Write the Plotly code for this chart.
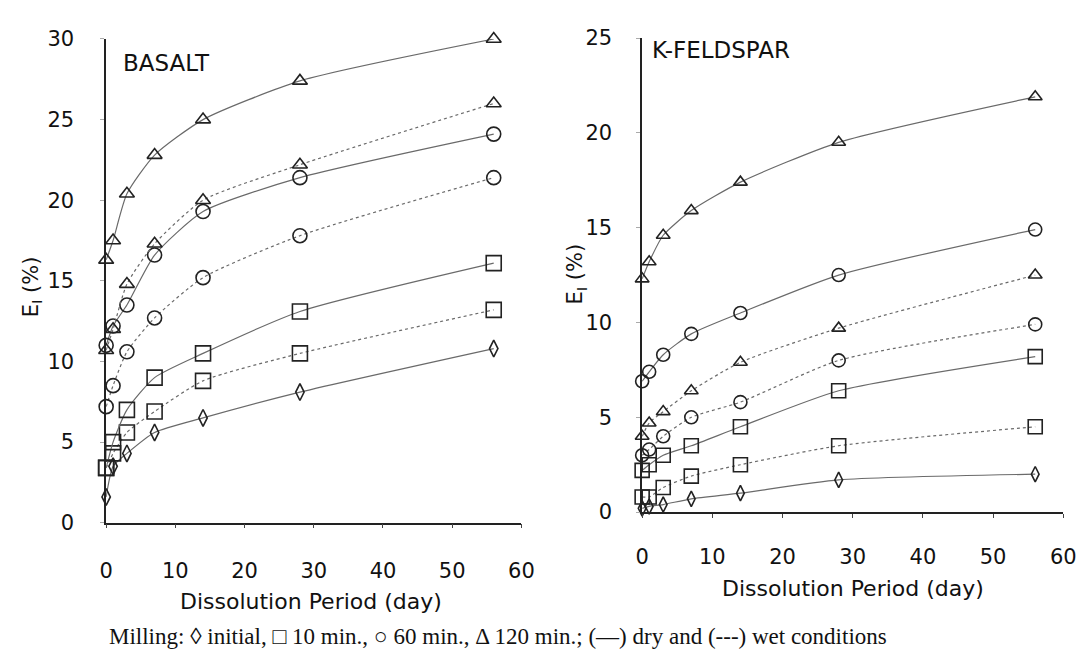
import plotly.graph_objects as go

days = [0, 1, 3, 7, 14, 28, 56]

# BASALT
bas_init_dry = [1.6, 3.5, 4.3, 5.6, 6.5, 8.1, 10.8]
bas_10_dry = [3.4, 5.0, 7.0, 9.0, 10.5, 13.1, 16.1]
bas_10_wet = [3.4, 4.3, 5.6, 6.9, 8.8, 10.5, 13.2]
bas_60_dry = [11.0, 12.2, 13.5, 16.6, 19.3, 21.4, 24.1]
bas_60_wet = [7.2, 8.5, 10.6, 12.7, 15.2, 17.8, 21.4]
bas_120_dry = [16.3, 17.5, 20.4, 22.8, 25.0, 27.4, 30.0]
bas_120_wet = [10.7, 12.0, 14.8, 17.3, 20.0, 22.2, 26.0]

# K-FELDSPAR
kf_init_dry = [0.2, 0.3, 0.4, 0.7, 1.0, 1.7, 2.0]
kf_10_dry = [2.2, 2.5, 3.0, 3.5, 4.5, 6.4, 8.2]
kf_10_wet = [0.8, 0.8, 1.3, 1.9, 2.5, 3.5, 4.5]
kf_60_dry = [6.9, 7.4, 8.3, 9.4, 10.5, 12.5, 14.9]
kf_60_wet = [3.0, 3.3, 4.0, 5.0, 5.8, 8.0, 9.9]
kf_120_dry = [12.3, 13.2, 14.6, 15.9, 17.4, 19.5, 21.9]
kf_120_wet = [4.0, 4.7, 5.3, 6.4, 7.9, 9.7, 12.5]

x_ticks = [0, 10, 20, 30, 40, 50, 60]
bas_y_ticks = [0, 5, 10, 15, 20, 25, 30]
kf_y_ticks = [0, 5, 10, 15, 20, 25]

LINE = "#6a6a6a"
MK = "#222222"
SANS = "DejaVu Sans, Arial, sans-serif"

fig = go.Figure()

def add(x, y, sym, size, wet, xa, ya):
    fig.add_trace(go.Scatter(
        x=x, y=y, mode="lines+markers", xaxis=xa, yaxis=ya,
        line=dict(color=LINE, width=1.2, dash="dot" if wet else "solid", shape="spline", smoothing=0.6),
        marker=dict(symbol=sym, size=size, color=MK, line=dict(width=1.6)),
        showlegend=False, cliponaxis=False))

series_bas = [
    (bas_init_dry, "diamond-tall-open", 12, False),
    (bas_10_wet, "square-open", 15, True),
    (bas_10_dry, "square-open", 15, False),
    (bas_60_wet, "circle-open", 14, True),
    (bas_60_dry, "circle-open", 14, False),
    (bas_120_wet, "triangle-up-open", 13, True),
    (bas_120_dry, "triangle-up-open", 13, False),
]
series_kf = [
    (kf_init_dry, "diamond-tall-open", 11, False),
    (kf_10_wet, "square-open", 14, True),
    (kf_10_dry, "square-open", 14, False),
    (kf_60_wet, "circle-open", 13, True),
    (kf_60_dry, "circle-open", 13, False),
    (kf_120_wet, "triangle-up-open", 12, True),
    (kf_120_dry, "triangle-up-open", 12, False),
]
for y, s, sz, w in series_bas:
    add(days, y, s, sz, w, "x", "y")
for y, s, sz, w in series_kf:
    add(days, y, s, sz, w, "x2", "y2")

W, H = 1092, 660
tickfont = dict(family=SANS, size=21, color="#111")

def xax(x0, x1, anchor, standoff):
    return dict(domain=[x0 / W, x1 / W], range=[0, 60], tickvals=x_ticks,
                showline=True, linecolor="#222", linewidth=1.5, ticks="outside",
                ticklen=4, tickcolor="#444", tickfont=tickfont, showgrid=False,
                zeroline=False, ticklabelstandoff=standoff, anchor=anchor)

def yax(y0, y1, top, ticks, anchor, standoff):
    return dict(domain=[(H - y0) / H, (H - y1) / H], range=[0, top], tickvals=ticks,
                showline=True, linecolor="#222", linewidth=1.5, ticks="outside", ticklen=4,
                tickcolor="#aaa", tickfont=tickfont, showgrid=False, zeroline=False,
                ticklabelstandoff=standoff, anchor=anchor)

fig.update_layout(
    width=W, height=H, margin=dict(l=0, r=0, t=0, b=0),
    paper_bgcolor="white", plot_bgcolor="white",
    xaxis=xax(101, 524, "y", 24),
    yaxis=yax(530, 28, 30, bas_y_ticks, "x", 22),
    xaxis2=xax(647, 1076, "y2", 21),
    yaxis2=yax(519, 27, 25, kf_y_ticks, "x2", 20),
)

def ann(text, x, y, size=22, family=SANS, angle=0):
    fig.add_annotation(text=text, x=x / W, y=1 - y / H, xref="paper", yref="paper",
                       showarrow=False, textangle=angle,
                       font=dict(family=family, size=size, color="#111"),
                       xanchor="center", yanchor="middle")

ann("BASALT", 162, 53, size=23)
ann("K-FELDSPAR", 727, 39, size=23)
ann("E<sub>I</sub> (%)", 25, 285, size=21, angle=-90)
ann("E<sub>I</sub> (%)", 580, 272, size=21, angle=-90)
ann("Dissolution Period (day)", 310, 612)
ann("Dissolution Period (day)", 862, 598)
ann("Milling: ◊ initial, □ 10 min., ○ 60 min., Δ 120 min.; (—) dry and (---) wet conditions",
    500, 648, size=23, family="Liberation Serif, Times New Roman, serif")

fig.write_html("out.html")
